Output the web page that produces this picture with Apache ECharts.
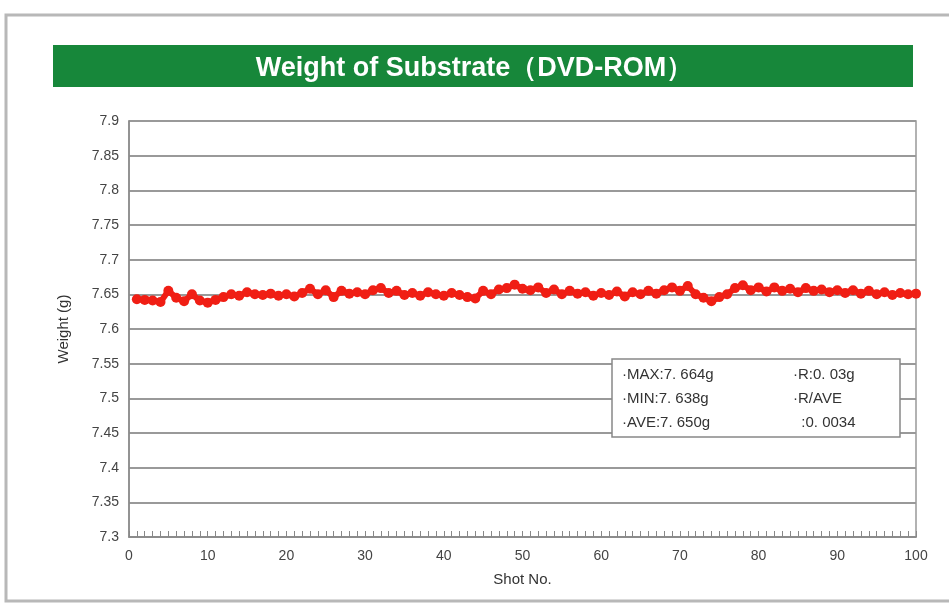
<!DOCTYPE html>
<html>
<head>
<meta charset="utf-8">
<script src="https://cdn.jsdelivr.net/npm/echarts@6/dist/echarts.min.js"></script>
<style>
html,body{margin:0;padding:0;background:#fff;}
#chart{width:949px;height:607px;}
</style>
</head>
<body>
<div id="chart"></div>
<script>
const titleText = 'Weight of Substrate（DVD-ROM）';
const xAxisName = 'Shot No.';
const yAxisName = 'Weight (g)';
const shots = [];
for (let i = 1; i <= 100; i++) shots.push(i);
const weights = [
  7.643, 7.642, 7.641, 7.639, 7.655, 7.645, 7.640, 7.650, 7.641, 7.638,
  7.642, 7.646, 7.650, 7.648, 7.653, 7.650, 7.649, 7.651, 7.648, 7.650,
  7.647, 7.652, 7.658, 7.650, 7.656, 7.646, 7.655, 7.651, 7.653, 7.650,
  7.656, 7.659, 7.652, 7.655, 7.649, 7.652, 7.648, 7.653, 7.650, 7.648,
  7.652, 7.649, 7.646, 7.644, 7.655, 7.650, 7.657, 7.659, 7.664, 7.658,
  7.656, 7.660, 7.652, 7.657, 7.650, 7.655, 7.651, 7.653, 7.648, 7.652,
  7.649, 7.654, 7.647, 7.653, 7.650, 7.655, 7.651, 7.656, 7.660, 7.655,
  7.662, 7.650, 7.645, 7.640, 7.646, 7.650, 7.659, 7.663, 7.656, 7.660,
  7.654, 7.660, 7.655, 7.658, 7.653, 7.659, 7.655, 7.657, 7.653, 7.656,
  7.652, 7.656, 7.651, 7.655, 7.650, 7.653, 7.649, 7.652, 7.650, 7.651
];
const statsLeft = ['·MAX:7. 664g', '·MIN:7. 638g', '·AVE:7. 650g'];
const statsRight = ['·R:0. 03g', '·R/AVE', '  :0. 0034'];

const chart = echarts.init(document.getElementById('chart'));
const data = shots.map((s, i) => [s, weights[i]]);

chart.setOption({
  animation: false,
  backgroundColor: '#ffffff',
  textStyle: { fontFamily: 'Liberation Sans' },
  title: {
    text: titleText,
    left: 'center',
    top: 50,
    textStyle: { color: '#ffffff', fontSize: 27, fontWeight: 'bold', fontFamily: 'Liberation Sans' }
  },
  graphic: [
    { type: 'rect', z: -10, shape: { x: 6, y: 15, width: 960, height: 586 },
      style: { fill: '#ffffff', stroke: '#b8b8b8', lineWidth: 3 } },
    { type: 'rect', z: -5, shape: { x: 53, y: 45, width: 860, height: 42 },
      style: { fill: '#17873a' } },
    { type: 'rect', z: 50, shape: { x: 612, y: 359, width: 288, height: 78 },
      style: { fill: '#ffffff', stroke: '#888888', lineWidth: 1.5 } },
    { type: 'text', z: 51, left: 622, top: 363,
      style: { text: statsLeft.join('\n'), fill: '#333', font: '15px "Liberation Sans"', lineHeight: 24 } },
    { type: 'text', z: 51, left: 793, top: 363,
      style: { text: statsRight.join('\n'), fill: '#333', font: '15px "Liberation Sans"', lineHeight: 24 } }
  ],
  grid: { left: 129, right: 33, top: 121, bottom: 70, show: true, borderColor: '#999', borderWidth: 1.5, backgroundColor: 'transparent' },
  xAxis: {
    type: 'value', min: 0, max: 100, interval: 10,
    name: xAxisName, nameLocation: 'middle', nameGap: 35,
    nameTextStyle: { color: '#333', fontSize: 15 },
    axisLine: { lineStyle: { color: '#888', width: 1.5 } },
    axisTick: { show: true, inside: true, length: 6, lineStyle: { color: '#888' } },
    minorTick: { show: true, splitNumber: 10, length: 6, lineStyle: { color: '#888' } },
    axisLabel: { color: '#444', fontSize: 14, margin: 12 },
    splitLine: { show: false }
  },
  yAxis: {
    type: 'value', min: 7.3, max: 7.9, interval: 0.05,
    name: yAxisName, nameLocation: 'middle', nameGap: 58, nameRotate: 90,
    nameTextStyle: { color: '#333', fontSize: 15 },
    axisLine: { show: true, lineStyle: { color: '#888', width: 1.5 } },
    axisTick: { show: false },
    axisLabel: { color: '#444', fontSize: 14, margin: 10, formatter: v => String(parseFloat(v.toFixed(2))) },
    splitLine: { show: true, lineStyle: { color: '#999', width: 2 } }
  },
  series: [{
    type: 'line',
    data: data,
    symbol: 'circle',
    symbolSize: 10,
    itemStyle: { color: '#f01e14' },
    lineStyle: { color: '#f01e14', width: 6 },
    z: 10
  }]
});
</script>
</body>
</html>
